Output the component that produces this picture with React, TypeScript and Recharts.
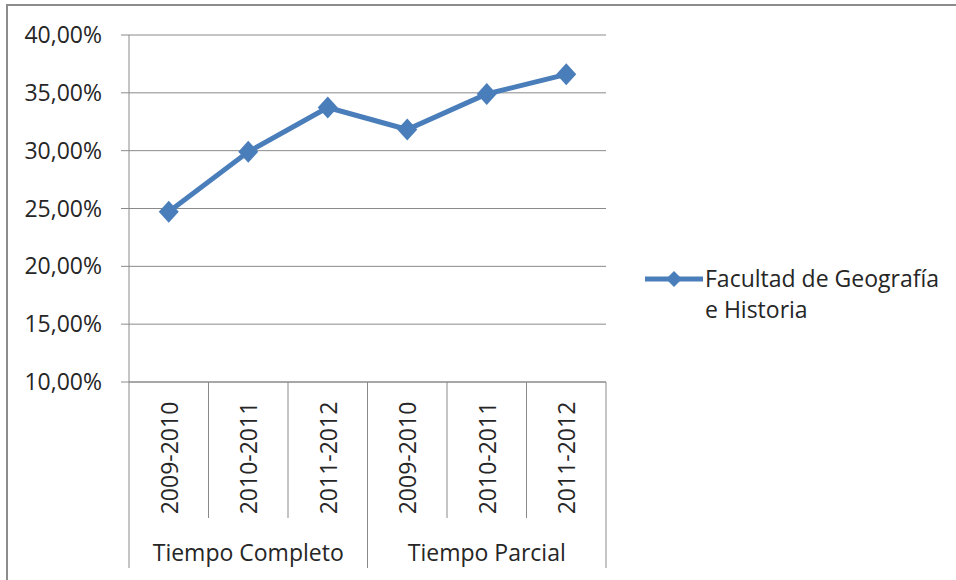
import { CartesianGrid, Legend, Line, LineChart, XAxis, YAxis } from "recharts";

const years = ["2009-2010", "2010-2011", "2011-2012", "2009-2010", "2010-2011", "2011-2012"];
const groups = ["Tiempo Completo", "Tiempo Parcial"];
const groupOf = [0, 0, 0, 1, 1, 1];
const geografiaHistoria = [0.2472, 0.299, 0.3373, 0.3183, 0.349, 0.366];
const yTicks = [0.1, 0.15, 0.2, 0.25, 0.3, 0.35, 0.4];
const seriesName = "Facultad de Geografía e Historia";

const data = years.map((year, i) => ({
  id: i,
  year,
  group: groups[groupOf[i]],
  value: geografiaHistoria[i],
}));

const W = 956;
const H = 580;
const PLOT_LEFT = 129;
const PLOT_RIGHT = 606;
const PLOT_TOP = 35;
const PLOT_BOTTOM = 382;
const BAND = (PLOT_RIGHT - PLOT_LEFT) / years.length;

const BLUE = "#4a7ebb";
const GRID = "#8a8a8a";
const TEXT = "#262626";
const FONT = "'Open Sans', sans-serif";
const FS = 23;

const fmt = (v: number) => (v * 100).toFixed(2).replace(".", ",") + "%";

const Diamond = (props: any) => {
  const { cx, cy, index } = props;
  if (cx == null || cy == null) return null;
  return (
    <polygon
      key={`d-${index}`}
      points={`${cx},${cy - 11} ${cx + 10},${cy} ${cx},${cy + 11} ${cx - 10},${cy}`}
      fill={BLUE}
    />
  );
};

const CategoryTick = (props: any) => {
  const { payload } = props;
  const i = payload.index;
  const x = payload.coordinate;
  const row = data[i];
  const left = x - BAND / 2;
  const right = x + BAND / 2;
  const groupStart = i === 0 || groupOf[i] !== groupOf[i - 1];
  const isLast = i === data.length - 1;
  const groupEnd = isLast || groupOf[i] !== groupOf[i + 1];
  const labelMid = (PLOT_BOTTOM + 518) / 2 + 8;
  const groupIdx = data.filter((d, j) => j < i && groupOf[j] === groupOf[i]).length;
  const groupSize = groupOf.filter((g) => g === groupOf[i]).length;
  return (
    <g>
      <line x1={left} y1={PLOT_BOTTOM} x2={left} y2={groupStart ? 568 : 518} stroke={GRID} />
      {groupEnd && <line x1={right} y1={PLOT_BOTTOM} x2={right} y2={568} stroke={GRID} />}
      <text
        x={x}
        y={labelMid}
        transform={`rotate(-90 ${x} ${labelMid})`}
        textAnchor="middle"
        dominantBaseline="central"
        fontFamily={FONT}
        fontSize={FS}
        fill={TEXT}
      >
        {row.year}
      </text>
      {groupIdx === Math.floor(groupSize / 2) && (
        <text
          x={groupSize % 2 === 1 ? x : left}
          y={552}
          textAnchor="middle"
          dominantBaseline="central"
          fontFamily={FONT}
          fontSize={FS}
          fill={TEXT}
        >
          {row.group}
        </text>
      )}
    </g>
  );
};

const LegendContent = () => (
  <div style={{ display: "flex", alignItems: "flex-start", fontFamily: FONT, fontSize: FS, color: TEXT }}>
    <svg width={60} height={30} style={{ flex: "none" }}>
      <line x1={0} y1={15} x2={58} y2={15} stroke={BLUE} strokeWidth={5} />
      <polygon points="29,7 37,15 29,23 21,15" fill={BLUE} />
    </svg>
    <div style={{ lineHeight: "31px", marginTop: -1, width: 260, textAlign: "left" }}>
      Facultad de Geografía
      <br />e Historia
    </div>
  </div>
);

export default function App() {
  return (
    <div style={{ position: "fixed", left: 0, top: 0, width: W, height: H, background: "#fff", overflow: "hidden" }}>
      <div
        style={{
          position: "absolute",
          left: 6,
          top: 4,
          width: W + 20,
          height: H + 20,
          borderTop: "2px solid #8c8c8c",
          borderLeft: "2px solid #8c8c8c",
        }}
      />
      <div style={{ position: "absolute", left: 0, top: 0 }}>
        <LineChart
          width={W}
          height={H}
          data={data}
          margin={{ top: PLOT_TOP, right: W - PLOT_RIGHT, bottom: 0, left: 0 }}
        >
          <CartesianGrid vertical={false} stroke={GRID} strokeWidth={1} />
          <XAxis
            dataKey="id"
            type="category"
            height={H - PLOT_BOTTOM}
            padding={{ left: BAND / 2, right: BAND / 2 }}
            axisLine={{ stroke: GRID }}
            tickLine={false}
            interval={0}
            tick={<CategoryTick />}
          />
          <YAxis
            width={PLOT_LEFT}
            domain={[0.1, 0.4]}
            ticks={yTicks}
            tickFormatter={fmt}
            axisLine={{ stroke: GRID }}
            tickLine={{ stroke: GRID }}
            tickSize={8}
            tickMargin={19}
            tick={{ fontFamily: FONT, fontSize: FS, fill: TEXT }}
          />
          <Legend
            layout="horizontal"
            verticalAlign="middle"
            align="center"
            content={<LegendContent />}
            wrapperStyle={{ position: "absolute", left: 645, top: 264, width: 310 }}
          />
          <Line
            type="linear"
            dataKey="value"
            name={seriesName}
            stroke={BLUE}
            strokeWidth={5}
            dot={<Diamond />}
            activeDot={false}
            isAnimationActive={false}
          />
        </LineChart>
      </div>
    </div>
  );
}
